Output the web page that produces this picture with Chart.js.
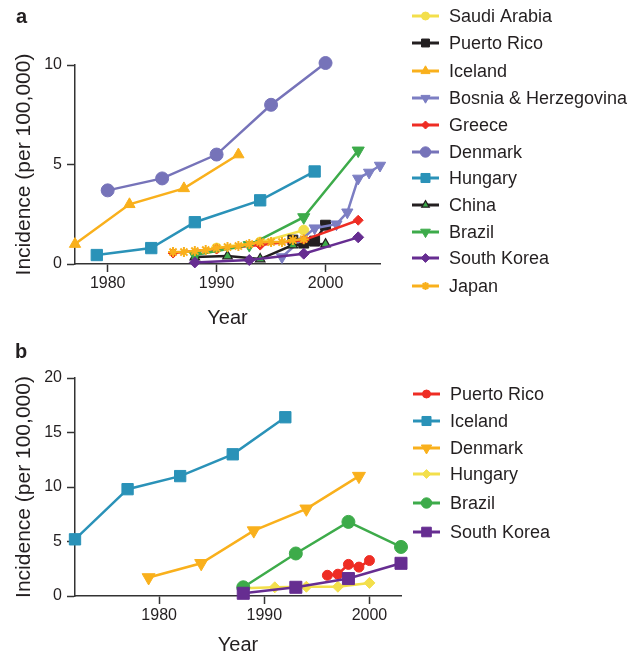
<!DOCTYPE html>
<html>
<head>
<meta charset="utf-8">
<script src="https://cdn.jsdelivr.net/npm/chart.js@4/dist/chart.umd.min.js"></script>
<style>
  body { margin: 0; background: #fff; width: 644px; height: 657px; overflow: hidden; position: relative; }
  .panel { position: absolute; left: 0; width: 644px; }
  #panelA { top: 0; height: 335px; }
  #panelB { top: 335px; height: 322px; }
</style>
</head>
<body>
<div class="panel" id="panelA"><canvas id="chartA"></canvas></div>
<div class="panel" id="panelB"><canvas id="chartB"></canvas></div>
<script>
// ---- panel a data ----
var saudiYearsA = [1990, 1994, 1998];
var saudiValsA = [0.8, 1.1, 1.7];
var puertoYearsA = [1997, 1998, 1999, 2000];
var puertoValsA = [1.2, 1.05, 1.15, 1.95];
var icelandYearsA = [1977, 1982, 1987, 1992];
var icelandValsA = [1.0, 3.0, 3.8, 5.5];
var bosniaYearsA = [1996, 1999, 2001, 2002, 2003, 2004, 2005];
var bosniaValsA = [0.35, 1.8, 2.0, 2.6, 4.3, 4.6, 4.95];
var greeceYearsA = [1986, 1990, 1994, 1998, 2003];
var greeceValsA = [0.55, 0.75, 0.95, 1.2, 2.2];
var denmarkYearsA = [1980, 1985, 1990, 1995, 2000];
var denmarkValsA = [3.7, 4.3, 5.5, 8.0, 10.1];
var hungaryYearsA = [1979, 1984, 1988, 1994, 1999];
var hungaryValsA = [0.45, 0.8, 2.1, 3.2, 4.65];
var chinaYearsA = [1988, 1991, 1994, 1997, 2000];
var chinaValsA = [0.35, 0.4, 0.25, 0.95, 1.0];
var brazilYearsA = [1988, 1993, 1998, 2003];
var brazilValsA = [0.45, 0.95, 2.35, 5.7];
var koreaYearsA = [1988, 1993, 1998, 2003];
var koreaValsA = [0.08, 0.2, 0.52, 1.34];
var japanYearsA = [1986, 1987, 1988, 1989, 1990, 1991, 1992, 1993, 1994, 1995, 1996, 1997, 1998];
var japanValsA = [0.6, 0.6, 0.65, 0.7, 0.8, 0.85, 0.9, 1.0, 1.1, 1.1, 1.1, 1.2, 1.25];

// ---- panel b data ----
var puertoYearsB = [1996, 1997, 1998, 1999, 2000];
var puertoValsB = [1.9, 2.0, 2.9, 2.65, 3.25];
var icelandYearsB = [1972, 1977, 1982, 1987, 1992];
var icelandValsB = [5.2, 9.8, 11.0, 13.0, 16.4];
var denmarkYearsB = [1979, 1984, 1989, 1994, 1999];
var denmarkValsB = [1.7, 3.0, 6.0, 8.0, 11.0];
var hungaryYearsB = [1988, 1991, 1994, 1997, 2000];
var hungaryValsB = [0.7, 0.8, 0.85, 0.85, 1.2];
var brazilYearsB = [1988, 1993, 1998, 2003];
var brazilValsB = [0.8, 3.9, 6.8, 4.5];
var koreaYearsB = [1988, 1993, 1998, 2003];
var koreaValsB = [0.25, 0.8, 1.6, 3.0];

var xTickYears = [1980, 1990, 2000];
var yTicksA = [0, 5, 10];
var yTicksB = [0, 5, 10, 15, 20];

var FONT = '"Liberation Sans", Arial, Helvetica, sans-serif';
var INK = '#231f20';

function pairs(years, vals) {
    var out = [];
    for (var i = 0; i < years.length; i++) {
        out.push({x: years[i], y: vals[i]});
    }
    return out;
}

// one line dataset; later series are drawn over earlier ones
function series(label, years, vals, color, style, radius, extra) {
    var ds = {
        label: label,
        data: pairs(years, vals),
        borderColor: color,
        borderWidth: 2.5,
        pointStyle: style,
        pointRadius: radius,
        pointHoverRadius: radius,
        pointBackgroundColor: color,
        pointBorderColor: color,
        pointBorderWidth: 1,
        pointRotation: 0,
        tension: 0,
        clip: false
    };
    for (var k in extra) ds[k] = extra[k];
    return ds;
}

/**
 * Legend at the right, line + marker + label, plus the panel letter
 */
var sideLegend = {
    id: 'sideLegend',
    afterDraw: function(chart, args, opts) {
        var ctx = chart.ctx;
        ctx.save();
        ctx.textBaseline = 'middle';
        ctx.textAlign = 'left';
        ctx.fillStyle = INK;
        ctx.font = 'bold 20px ' + FONT;
        ctx.fillText(opts.letter, opts.letterX, opts.letterY);

        ctx.font = '18px ' + FONT;
        chart.data.datasets.forEach(function(ds, i) {
            var y = opts.rows[i];
            ctx.strokeStyle = ds.borderColor;
            ctx.lineWidth = 3;
            ctx.beginPath();
            ctx.moveTo(opts.x, y);
            ctx.lineTo(opts.x + 27, y);
            ctx.stroke();

            ctx.fillStyle = ds.pointBackgroundColor;
            ctx.strokeStyle = ds.pointBorderColor;
            ctx.lineWidth = ds.pointBorderWidth;
            Chart.helpers.drawPoint(ctx, {
                pointStyle: ds.pointStyle,
                radius: ds.pointRadius * 0.8,
                rotation: ds.pointRotation,
                borderWidth: ds.pointBorderWidth
            }, opts.x + 13.5, y);

            ctx.fillStyle = INK;
            ctx.fillText(ds.label, opts.x + 37, y + 1);
        });
        ctx.restore();
    }
};

function axes(xMin, xMax, yMax, yTicks, xHeight, yTitlePad, xTitlePad) {
    var line = {display: true, drawOnChartArea: false, drawTicks: true, tickLength: 8, tickWidth: 1.5, tickColor: '#333'};
    return {
        x: {
            type: 'linear',
            min: xMin,
            max: xMax,
            grid: line,
            border: {display: true, color: '#333', width: 1.5},
            afterBuildTicks: function(s) { s.ticks = xTickYears.map(function(v) { return {value: v}; }); },
            afterFit: function(s) { s.height = xHeight; },
            ticks: {color: INK, font: {family: FONT, size: 16}, padding: 2, maxRotation: 0,
                    callback: function(v) { return String(v); }},
            title: {display: true, text: 'Year', color: INK, font: {family: FONT, size: 20},
                    padding: {top: 0, bottom: xTitlePad}}
        },
        y: {
            min: 0,
            max: yMax,
            grid: line,
            border: {display: true, color: '#333', width: 1.5},
            afterBuildTicks: function(s) { s.ticks = yTicks.map(function(v) { return {value: v}; }); },
            afterFit: function(s) { s.width = 75; },
            ticks: {color: INK, font: {family: FONT, size: 16}, padding: 5,
                    callback: function(v) { return String(v); }},
            title: {display: true, text: 'Incidence (per 100,000)', color: INK, font: {family: FONT, size: 21},
                    padding: {top: yTitlePad, bottom: 0}}
        }
    };
}

function makeChart(id, datasets, padding, scales, legendOpts) {
    datasets.forEach(function(ds, i) { ds.order = datasets.length - i; });
    return new Chart(document.getElementById(id), {
        type: 'line',
        data: {datasets: datasets},
        options: {
            responsive: true,
            maintainAspectRatio: false,
            animation: false,
            events: [],
            layout: {padding: padding},
            scales: scales,
            plugins: {
                legend: {display: false},
                tooltip: {enabled: false},
                sideLegend: legendOpts
            }
        },
        plugins: [sideLegend]
    });
}

var ORANGE = '#f9b01c', LAVENDER = '#7673b9', BOSNIA = '#7c7ec3', TEAL = '#2a92b8',
    RED = '#ee2d24', GREEN = '#3dab4a', PURPLE = '#662d91', YELLOW = '#f3df4b', BLACK = '#231f20';

var datasetsA = [
    series('Saudi Arabia', saudiYearsA, saudiValsA, YELLOW, 'circle', 5),
    series('Puerto Rico', puertoYearsA, puertoValsA, BLACK, 'rect', 7),
    series('Iceland', icelandYearsA, icelandValsA, ORANGE, 'triangle', 6.5),
    series('Bosnia & Herzegovina', bosniaYearsA, bosniaValsA, BOSNIA, 'triangle', 6.5, {pointRotation: 180}),
    series('Greece', greeceYearsA, greeceValsA, RED, 'rectRot', 5),
    series('Denmark', denmarkYearsA, denmarkValsA, LAVENDER, 'circle', 6.5),
    series('Hungary', hungaryYearsA, hungaryValsA, TEAL, 'rect', 8),
    series('China', chinaYearsA, chinaValsA, BLACK, 'triangle', 5.5, {pointBackgroundColor: GREEN, pointBorderColor: BLACK, pointBorderWidth: 1.2}),
    series('Brazil', brazilYearsA, brazilValsA, GREEN, 'triangle', 7, {pointRotation: 180}),
    series('South Korea', koreaYearsA, koreaValsA, PURPLE, 'rectRot', 5.5),
    series('Japan', japanYearsA, japanValsA, ORANGE, 'star', 5, {pointBorderWidth: 2})
];

var datasetsB = [
    series('Puerto Rico', puertoYearsB, puertoValsB, RED, 'circle', 5),
    series('Iceland', icelandYearsB, icelandValsB, TEAL, 'rect', 8),
    series('Denmark', denmarkYearsB, denmarkValsB, ORANGE, 'triangle', 7.5, {pointRotation: 180}),
    series('Hungary', hungaryYearsB, hungaryValsB, YELLOW, 'rectRot', 5.5),
    series('Brazil', brazilYearsB, brazilValsB, GREEN, 'circle', 6.5),
    series('South Korea', koreaYearsB, koreaValsB, PURPLE, 'rect', 8.5)
];

makeChart('chartA', datasetsA, {top: 65, right: 264, left: 0, bottom: 0},
    axes(1977, 2005, 10, yTicksA, 71, 12, 5),
    {letter: 'a', letterX: 16, letterY: 17, x: 412, rows: [16, 43, 71, 98, 125, 152, 178, 205, 232, 258, 286]});

makeChart('chartB', datasetsB, {top: 43, right: 243, left: 0, bottom: 0},
    axes(1972, 2003, 20, yTicksB, 61, 12, 0),
    {letter: 'b', letterX: 15, letterY: 17, x: 413, rows: [59, 86, 113, 139, 168, 197]});
</script>
</body>
</html>
